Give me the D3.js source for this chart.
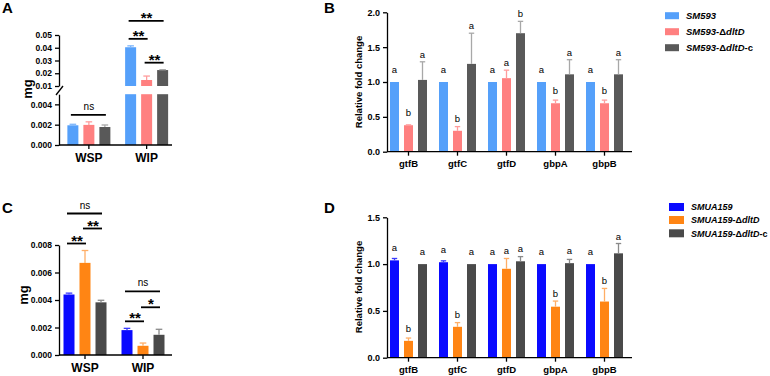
<!DOCTYPE html>
<html>
<head>
<meta charset="utf-8">
<script src="https://cdn.jsdelivr.net/npm/d3@7"></script>
<style>
  body { margin: 0; background: #fff; }
  svg text { font-family: "Liberation Sans", Arial, Helvetica, sans-serif; }
</style>
</head>
<body>
<svg id="fig" width="770" height="376"></svg>
<script>
// ---- data ----
const groupsAC = ['WSP', 'WIP'];
const genes = ['gtfB', 'gtfC', 'gtfD', 'gbpA', 'gbpB'];
const seriesAB = ['SM593', 'SM593-ΔdltD', 'SM593-ΔdltD-c'];
const seriesCD = ['SMUA159', 'SMUA159-ΔdltD', 'SMUA159-ΔdltD-c'];

// panel A: mg, [group][series]
const aMean = [[0.00194, 0.00198, 0.00177], [0.0404, 0.0147, 0.0225]];
const aSd   = [[0.0001, 0.0003, 0.0002], [0.0011, 0.0031, 0.0003]];
// panel C: mg
const cMean = [[0.0044, 0.0067, 0.00383], [0.00181, 0.00067, 0.00147]];
const cSd   = [[0.0001, 0.0009, 0.00015], [0.00013, 0.0002, 0.0004]];
// panel B: relative fold change, [gene][series]
const bMean = [[1.0, 0.38, 1.03], [1.0, 0.30, 1.26], [1.0, 1.055, 1.70], [1.0, 0.695, 1.11], [1.0, 0.695, 1.11]];
const bSd   = [[0, 0.005, 0.26], [0, 0.06, 0.44], [0, 0.115, 0.17], [0, 0.045, 0.21], [0, 0.045, 0.21]];
const bLetters = [['a', 'b', 'a'], ['a', 'b', 'a'], ['a', 'a', 'b'], ['a', 'b', 'a'], ['a', 'b', 'a']];
// panel D
const dMean = [[1.04, 0.18, 1.0], [1.02, 0.33, 1.0], [1.0, 0.95, 1.03], [1.0, 0.545, 1.01], [1.0, 0.60, 1.115]];
const dSd   = [[0.02, 0.03, 0], [0.015, 0.045, 0], [0, 0.11, 0.05], [0, 0.06, 0.04], [0, 0.14, 0.105]];
const dLetters = [['a', 'b', 'a'], ['a', 'b', 'a'], ['a', 'a', 'a'], ['a', 'b', 'a'], ['a', 'b', 'a']];

// significance brackets: group, from series, to series, label, stacking level
const aBrackets = [
  { g: 0, a: 0, b: 2, label: 'ns', level: 0 },
  { g: 1, a: 1, b: 2, label: '**', level: 0 },
  { g: 1, a: 0, b: 1, label: '**', level: 0 },
  { g: 1, a: 0, b: 2, label: '**', level: 1 }
];
const cBrackets = [
  { g: 0, a: 0, b: 1, label: '**', level: 0 },
  { g: 0, a: 1, b: 2, label: '**', level: 1 },
  { g: 0, a: 0, b: 2, label: 'ns', level: 2 },
  { g: 1, a: 0, b: 1, label: '**', level: 0 },
  { g: 1, a: 1, b: 2, label: '*', level: 1 },
  { g: 1, a: 0, b: 2, label: 'ns', level: 2 }
];

// ---- styles ----
const colorsAB = ['#55a0fa', '#ff8080', '#595959'];
const errAB    = ['#7db6fb', '#ff9c9c', '#a8a8a8'];
const colorsCD = ['#0a0aff', '#ff8514', '#4a4a4a'];
const errCD    = ['#3b3bff', '#ffae66', '#8a8a8a'];
const FONT = '"Liberation Sans", Arial, Helvetica, sans-serif';

const svg = d3.select('#fig');

function panelLetter(txt, x, y) {
  svg.append('text').attr('x', x).attr('y', y).text(txt)
    .attr('font-family', '"Liberation Serif", "Times New Roman", serif')
    .attr('font-weight', 'bold').attr('font-size', 15);
}

function styleAxis(g, fs) {
  g.selectAll('path, line').attr('stroke', '#000').attr('stroke-width', 1.3);
  g.selectAll('text').attr('font-family', FONT).attr('font-weight', 'bold')
    .attr('font-size', fs).attr('fill', '#000');
}

function yLabel(txt, x, y, fs) {
  svg.append('text').attr('transform', `translate(${x},${y}) rotate(-90)`)
    .attr('text-anchor', 'middle').attr('font-weight', 'bold')
    .attr('font-size', fs).text(txt);
}

function xAxis(x, y0, x1, x2, fs, pad) {
  const g = svg.append('g').attr('transform', `translate(0,${y0})`)
    .call(d3.axisBottom(x).tickSize(4).tickPadding(pad));
  g.select('.domain').remove();
  g.append('line').attr('x1', x1).attr('x2', x2);
  styleAxis(g, fs);
  return g;
}

// bar + whisker drawing; yv maps a value to px, segs returns rect pieces
function drawBars(g, cats, means, sds, x, xi, yv, segs, colors, errs) {
  cats.forEach((c, gi) => {
    means[gi].forEach((m, si) => {
      const left = x(c) + x.bandwidth() / 2 + xi(si);
      const w = xi.bandwidth();
      segs(m).forEach(([top, bot]) => {
        g.append('rect').attr('x', left).attr('y', top).attr('width', w)
          .attr('height', bot - top).attr('fill', colors[si]);
      });
      const sd = sds[gi][si];
      if (sd > 0) {
        const cx = left + w / 2, yt = yv(m + sd);
        g.append('line').attr('x1', cx).attr('x2', cx).attr('y1', yv(m)).attr('y2', yt)
          .attr('stroke', errs[si]).attr('stroke-width', 1.3);
        g.append('line').attr('x1', cx - w * 0.3).attr('x2', cx + w * 0.3).attr('y1', yt).attr('y2', yt)
          .attr('stroke', errs[si]).attr('stroke-width', 1.3);
      }
    });
  });
}

function drawBrackets(brackets, cats, means, sds, x, xi, yv, gap, step) {
  brackets.forEach(br => {
    const c = cats[br.g];
    const cx = si => x(c) + x.bandwidth() / 2 + xi(si) + xi.bandwidth() / 2;
    let top = Infinity;
    for (let si = br.a; si <= br.b; si++) top = Math.min(top, yv(means[br.g][si] + sds[br.g][si]));
    const yy = top - gap - br.level * step;
    svg.append('line').attr('x1', cx(br.a) - 2).attr('x2', cx(br.b) + 1).attr('y1', yy).attr('y2', yy)
      .attr('stroke', '#000').attr('stroke-width', 1.8);
    const stars = br.label !== 'ns';
    svg.append('text').attr('x', (cx(br.a) + cx(br.b)) / 2).attr('y', stars ? yy + 2 : yy - 5)
      .attr('text-anchor', 'middle').attr('font-size', stars ? 15 : 10)
      .attr('font-weight', stars ? 'bold' : 'normal').text(br.label);
  });
}

function drawLetters(cats, means, sds, letters, x, xi, yv) {
  cats.forEach((c, gi) => {
    means[gi].forEach((m, si) => {
      const cx = x(c) + x.bandwidth() / 2 + xi(si) + xi.bandwidth() / 2;
      const yc = Math.min(yv(m + sds[gi][si]) - 7, yv(m) - 12);
      svg.append('text').attr('x', cx).attr('y', yc + 3).attr('text-anchor', 'middle')
        .attr('font-size', 9.5).text(letters[gi][si]);
    });
  });
}

function legend(labels, colors, x0, ys, sw, sh, fs) {
  labels.forEach((lab, i) => {
    svg.append('rect').attr('x', x0).attr('y', ys[i] - sh / 2).attr('width', sw).attr('height', sh)
      .attr('fill', colors[i]);
    const t = svg.append('text').attr('x', x0 + sw + 7).attr('y', ys[i] + fs * 0.36)
      .attr('font-size', fs).attr('font-weight', 'bold');
    const m = lab.match(/^([^-]+)(-Δ)?([^-]*)?(-c)?$/);
    [[m[1], true], [m[2], false], [m[3], true], [m[4], false]].forEach(([s, it]) => {
      if (s) t.append('tspan').attr('font-style', it ? 'italic' : 'normal').text(s);
    });
  });
}

// ---------- Panel A (broken y axis) ----------
panelLetter('A', 2, 13);
const xA = d3.scaleBand().domain(groupsAC).range([60, 175.5]);
const xInAC = d3.scaleBand().domain(d3.range(3)).range([-21.5, 21.5]).paddingInner(0.3125);
const yALow = d3.scaleLinear().domain([0, 0.005]).range([145, 94.2]);
const yAHigh = d3.scaleLinear().domain([0.01, 0.05]).range([86, 35]);
const yA = v => v <= 0.005 ? yALow(v) : yAHigh(Math.max(v, 0.01));
const gA = svg.append('g');
drawBars(gA, groupsAC, aMean, aSd, xA, xInAC, yA,
  m => m <= 0.005 ? [[yALow(m), yALow(0)]] : [[yAHigh(m), yAHigh(0.01)], [yALow(0.005), yALow(0)]],
  colorsAB, errAB);
const axAHi = svg.append('g').attr('transform', 'translate(59,0)')
  .call(d3.axisLeft(yAHigh).tickValues([0.01, 0.02, 0.03, 0.04, 0.05]).tickFormat(d3.format('.2f')).tickSize(4).tickSizeOuter(0));
styleAxis(axAHi, 8.5);
const axALo = svg.append('g').attr('transform', 'translate(59,0)')
  .call(d3.axisLeft(yALow).tickValues([0, 0.002, 0.004]).tickFormat(d3.format('.3f')).tickSize(4).tickSizeOuter(0));
styleAxis(axALo, 8.5);
svg.append('line').attr('x1', 56).attr('y1', 95).attr('x2', 63).attr('y2', 86)
  .attr('stroke', '#000').attr('stroke-width', 1.3);
xAxis(xA, 145, 59, 172, 12, 4);
yLabel('mg', 32, 89, 13);
drawBrackets(aBrackets, groupsAC, aMean, aSd, xA, xInAC, yA, 7, 18);

// ---------- Panel C ----------
panelLetter('C', 2, 213);
const xC = d3.scaleBand().domain(groupsAC).range([56, 172]);
const yC = d3.scaleLinear().domain([0, 0.008]).range([355, 245]);
const gC = svg.append('g');
drawBars(gC, groupsAC, cMean, cSd, xC, xInAC, yC, m => [[yC(m), yC(0)]], colorsCD, errCD);
const axC = svg.append('g').attr('transform', 'translate(59,0)')
  .call(d3.axisLeft(yC).tickValues([0, 0.002, 0.004, 0.006, 0.008]).tickFormat(d3.format('.3f')).tickSize(4).tickSizeOuter(0));
styleAxis(axC, 8.5);
xAxis(xC, 355, 59, 172, 12, 4);
yLabel('mg', 28, 295, 13);
drawBrackets(cBrackets, groupsAC, cMean, cSd, xC, xInAC, yC, 7, 15);

// ---------- Panel B ----------
panelLetter('B', 324, 13);
const xBD = d3.scaleBand().domain(genes).range([384, 629]);
const xInBD = d3.scaleBand().domain(d3.range(3)).range([-18.5, 18.5]).paddingInner(0.357);
const yB = d3.scaleLinear().domain([0, 2]).range([151.7, 12.3]);
const gB = svg.append('g');
drawBars(gB, genes, bMean, bSd, xBD, xInBD, yB, m => [[yB(m), yB(0)]], colorsAB, errAB);
const axB = svg.append('g').attr('transform', 'translate(387,0)')
  .call(d3.axisLeft(yB).tickValues([0, 0.5, 1, 1.5, 2]).tickFormat(d3.format('.1f')).tickSize(4).tickSizeOuter(0));
styleAxis(axB, 9);
xAxis(xBD, 151.7, 387, 632, 9.5, 5);
yLabel('Relative fold change', 362, 82, 9.5);
drawLetters(genes, bMean, bSd, bLetters, xBD, xInBD, yB);
legend(seriesAB, colorsAB, 665, [15.7, 31.7, 47.7], 14, 7, 9.5);

// ---------- Panel D ----------
panelLetter('D', 324, 213);
const yD = d3.scaleLinear().domain([0, 1.5]).range([357.7, 217.3]);
const gD = svg.append('g');
drawBars(gD, genes, dMean, dSd, xBD, xInBD, yD, m => [[yD(m), yD(0)]], colorsCD, errCD);
const axD = svg.append('g').attr('transform', 'translate(387,0)')
  .call(d3.axisLeft(yD).tickValues([0, 0.5, 1, 1.5]).tickFormat(d3.format('.1f')).tickSize(4).tickSizeOuter(0));
styleAxis(axD, 9);
xAxis(xBD, 357.7, 387, 632, 9.5, 5);
yLabel('Relative fold change', 362, 287, 9.5);
drawLetters(genes, dMean, dSd, dLetters, xBD, xInBD, yD);
legend(seriesCD, colorsCD, 669, [207, 220, 233.3], 15, 8, 9);
</script>
</body>
</html>
